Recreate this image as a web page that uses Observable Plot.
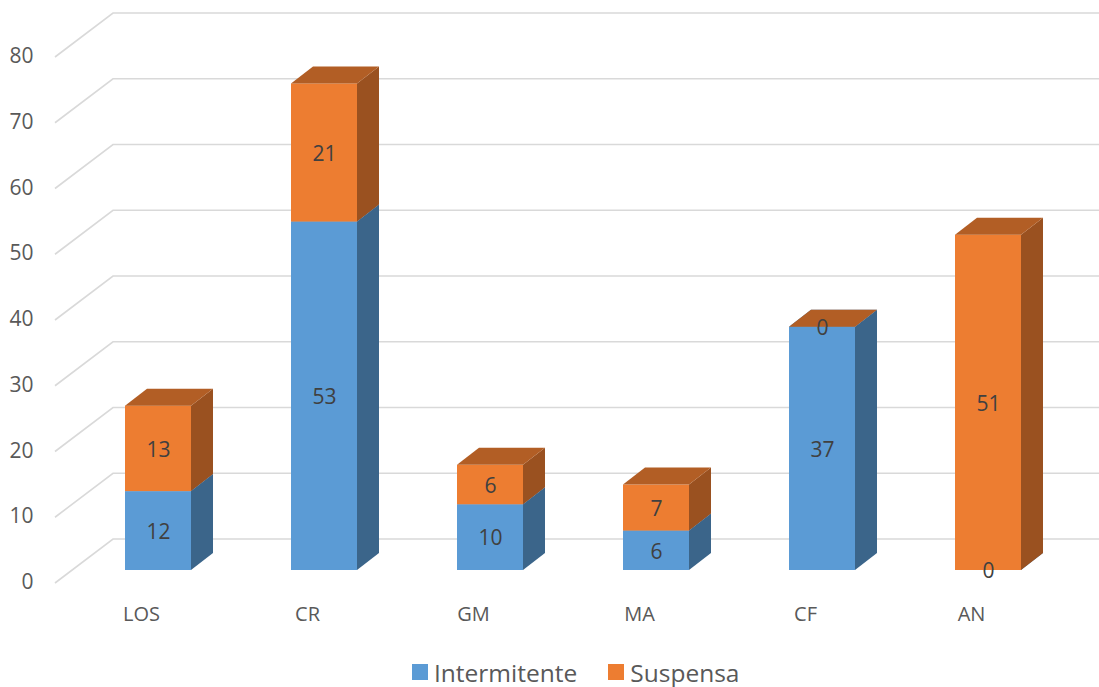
<!DOCTYPE html>
<html>
<head>
<meta charset="utf-8">
<script src="https://cdn.jsdelivr.net/npm/d3@7"></script>
<script src="https://cdn.jsdelivr.net/npm/@observablehq/plot@0.6"></script>
<style>
  html, body { margin: 0; padding: 0; background: #ffffff; }
  #wrap { position: relative; width: 1099px; height: 687px; font-family: "Open Sans", sans-serif; }
  #legend { position: absolute; left: 412px; top: 655px; height: 34px; display: flex; align-items: center; font-size: 24.5px; color: #595959; }
  .item { display: flex; align-items: center; margin-right: 31px; }
  .sw { width: 16px; height: 16px; margin-right: 6px; }
</style>
</head>
<body>
<div id="wrap"><div id="chart"></div><div id="legend"></div></div>
<script>
// ---- data ----
const categories = ["LOS", "CR", "GM", "MA", "CF", "AN"];
const series = ["Intermitente", "Suspensa"];
const intermitente = [12, 53, 10, 6, 37, 0];
const suspensa = [13, 21, 6, 7, 0, 51];
const yTicks = [0, 10, 20, 30, 40, 50, 60, 70, 80];

// ---- styles ----
const frontColors = ["#5B9BD5", "#ED7D31"];
const sideColors = ["#3B658A", "#9A5120"];
const topColors = ["#4A7DAB", "#B25E25"];
const BAR_DX = 22, BAR_DY = -17;      // bar depth offset
const WALL_DX = 58, FRONT_DY = 13, BACK_DY = -31; // gridline perspective
const svgns = "http://www.w3.org/2000/svg";

const rows = [];
series.forEach((s, si) => {
  const vals = si === 0 ? intermitente : suspensa;
  categories.forEach((c, i) => rows.push({cat: c, series: s, si, value: vals[i]}));
});

function grid(index, scales, values, dims) {
  const g = document.createElementNS(svgns, "g");
  for (const t of yTicks) {
    const y = scales.y(t);
    const p = document.createElementNS(svgns, "path");
    p.setAttribute("d", `M${dims.marginLeft},${y + FRONT_DY}L${dims.marginLeft + WALL_DX},${y + BACK_DY}H${dims.width}`);
    p.setAttribute("fill", "none");
    p.setAttribute("stroke", "#D9D9D9");
    p.setAttribute("stroke-width", 1.6);
    g.appendChild(p);
  }
  return g;
}

function bars3d(index, scales, values, dims, context, next) {
  const g = next(index, scales, values, dims, context);
  const rects = Array.from(g.querySelectorAll("rect"));
  rects.forEach((r, k) => {
    const d = rows[index[k]];
    const x = +r.getAttribute("x"), y = +r.getAttribute("y");
    const w = +r.getAttribute("width"), h = +r.getAttribute("height");
    const side = document.createElementNS(svgns, "path");
    side.setAttribute("d", `M${x + w},${y + h}L${x + w + BAR_DX},${y + h + BAR_DY}L${x + w + BAR_DX},${y + BAR_DY}L${x + w},${y}Z`);
    side.setAttribute("fill", sideColors[d.si]);
    const top = document.createElementNS(svgns, "path");
    top.setAttribute("d", `M${x},${y}L${x + w},${y}L${x + w + BAR_DX},${y + BAR_DY}L${x + BAR_DX},${y + BAR_DY}Z`);
    top.setAttribute("fill", topColors[d.si]);
    const after = r.nextSibling;
    r.parentNode.insertBefore(side, after);
    r.parentNode.insertBefore(top, after);
  });
  return g;
}

const chart = Plot.plot({
  width: 1099,
  height: 645,
  marginLeft: 55,
  marginRight: 0,
  marginTop: 0,
  marginBottom: 0,
  style: {fontFamily: "'Open Sans', sans-serif", background: "#ffffff", overflow: "visible"},
  x: {domain: categories, range: [73, 1073], paddingInner: 0.6, paddingOuter: 0.3, axis: null},
  y: {domain: [0, 80], range: [570, 44], axis: null},
  color: {domain: series, range: frontColors},
  marks: [
    grid,
    Plot.barY(rows, Plot.stackY({x: "cat", y: "value", fill: "series", z: "series", render: bars3d})),
    Plot.text(rows, Plot.stackY({x: "cat", y: "value", z: "series", text: d => String(d.value), fill: "#404040", fontSize: 21, dy: 1})),
    Plot.text(yTicks, {y: d => d, text: d => String(d), frameAnchor: "left", textAnchor: "end", dx: -22, dy: 12, fill: "#595959", fontSize: 21}),
    Plot.text(categories, {x: d => d, y: () => 0, text: d => d, dx: -17, dy: 44, fill: "#595959", fontSize: 20})
  ]
});
document.getElementById("chart").appendChild(chart);

const legend = document.getElementById("legend");
series.forEach((s, i) => {
  const it = document.createElement("div");
  it.className = "item";
  const sw = document.createElement("div");
  sw.className = "sw";
  sw.style.background = frontColors[i];
  const t = document.createElement("span");
  t.textContent = s;
  it.appendChild(sw); it.appendChild(t);
  legend.appendChild(it);
});
</script>
</body>
</html>
